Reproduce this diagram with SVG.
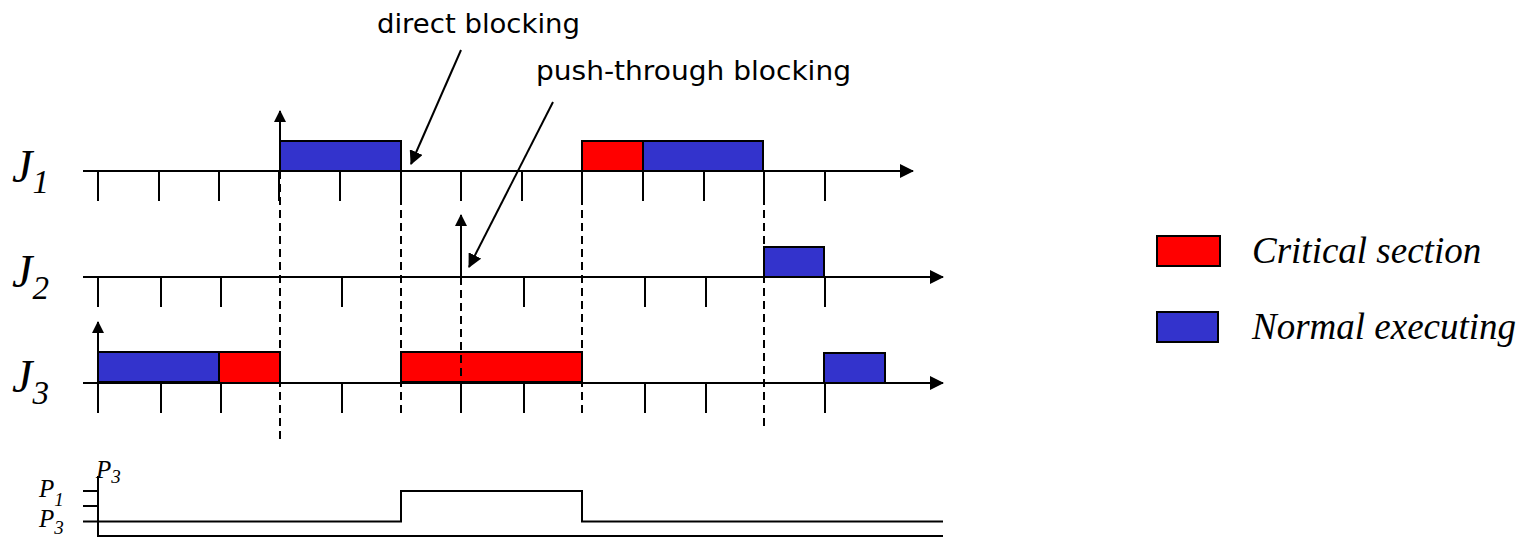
<svg xmlns="http://www.w3.org/2000/svg" width="1529" height="537" viewBox="0 0 1529 537">
  <style>
    .ax{stroke:#000;stroke-width:2;fill:none}
    .tk{stroke:#000;stroke-width:2}
    .dash{stroke:#000;stroke-width:2;stroke-dasharray:8,5;fill:none}
    .cs{fill:#ff0000;stroke:#000;stroke-width:2}
    .ne{fill:#3333cc;stroke:#000;stroke-width:2}
    .lbl{font-family:"Liberation Serif","Times New Roman",serif;font-style:italic;fill:#000}
    .note{font-family:"DejaVu Sans","Liberation Sans",sans-serif;font-size:26px;fill:#000}
  </style>
  <defs>
    <marker id="ah" viewBox="0 0 12 12" refX="11" refY="6" markerWidth="12" markerHeight="12" markerUnits="userSpaceOnUse" orient="auto">
      <path d="M0,0 L12,6 L0,12 Z" fill="#000"/>
    </marker>
    <marker id="ahs" viewBox="0 0 14 14" refX="13" refY="7" markerWidth="14" markerHeight="14" markerUnits="userSpaceOnUse" orient="auto">
      <path d="M0,0 L14,7 L0,14 Z" fill="#000"/>
    </marker>
  </defs>

  <!-- execution boxes -->
  <g id="j1-boxes">
    <rect class="ne" x="280" y="141" width="121" height="30"/>
    <rect class="cs" x="582" y="141" width="61" height="30"/>
    <rect class="ne" x="643" y="141" width="120" height="30"/>
  </g>
  <g id="j2-boxes">
    <rect class="ne" x="764" y="247" width="60" height="30"/>
  </g>
  <g id="j3-boxes">
    <rect class="ne" x="98" y="352" width="121" height="30"/>
    <rect class="cs" x="219" y="352" width="61" height="31"/>
    <rect class="cs" x="401" y="352" width="181" height="30"/>
    <rect class="ne" x="824" y="353" width="61" height="30"/>
  </g>

  <!-- time axes with ticks -->
  <g id="j1-axis">
    <line class="ax" x1="83" y1="171" x2="913" y2="171" marker-end="url(#ahs)"/>
    <path class="tk" d="M98,171V201 M159,171V201 M219,171V201 M279,171V201 M340,171V201 M401,171V201 M461,171V201 M522,171V201 M582,171V201 M643,171V201 M704,171V201 M764,171V201 M825,171V201"/>
  </g>
  <g id="j2-axis">
    <line class="ax" x1="83" y1="277" x2="943" y2="277" marker-end="url(#ahs)"/>
    <path class="tk" d="M98,277V307 M161,277V307 M221,277V307 M342,277V307 M524,277V307 M645,277V307 M706,277V307 M825,277V307"/>
  </g>
  <g id="j3-axis">
    <line class="ax" x1="83" y1="383" x2="943" y2="383" marker-end="url(#ahs)"/>
    <path class="tk" d="M98,383V413 M161,383V413 M221,383V413 M342,383V413 M461,383V413 M524,383V413 M645,383V413 M706,383V413 M825,383V413"/>
  </g>

  <!-- release arrows -->
  <g id="releases">
    <line class="ax" x1="280" y1="171" x2="280" y2="111" marker-end="url(#ah)"/>
    <line class="ax" x1="461" y1="277" x2="461" y2="215" marker-end="url(#ah)"/>
    <line class="ax" x1="98" y1="352" x2="98" y2="322" marker-end="url(#ah)"/>
  </g>

  <!-- dashed time markers -->
  <g id="markers">
    <line class="dash" x1="280" y1="171" x2="280" y2="443"/>
    <line class="dash" x1="401" y1="171" x2="401" y2="413"/>
    <line class="dash" x1="461" y1="277" x2="461" y2="413"/>
    <line class="dash" x1="582" y1="171" x2="582" y2="413"/>
    <line class="dash" x1="764" y1="171" x2="764" y2="430"/>
  </g>

  <!-- job labels -->
  <g id="job-labels" class="lbl">
    <text x="12" y="182" font-size="46">J<tspan font-size="33" dy="11">1</tspan></text>
    <text x="12" y="287" font-size="46">J<tspan font-size="33" dy="12">2</tspan></text>
    <text x="12" y="392" font-size="46">J<tspan font-size="33" dy="12">3</tspan></text>
  </g>

  <!-- annotations -->
  <g id="direct-blocking">
    <text class="note" x="377" y="33" textLength="203" lengthAdjust="spacingAndGlyphs">direct blocking</text>
    <line class="ax" x1="461" y1="50" x2="411" y2="164" marker-end="url(#ahs)"/>
  </g>
  <g id="push-through-blocking">
    <text class="note" x="536" y="80" textLength="315" lengthAdjust="spacingAndGlyphs">push-through blocking</text>
    <line class="ax" x1="553" y1="102" x2="469" y2="267" marker-end="url(#ahs)"/>
  </g>

  <!-- priority of J3 -->
  <g id="priority">
    <path class="ax" d="M98,476V536H943"/>
    <path class="tk" d="M83,491H98 M83,506H98"/>
    <path class="ax" d="M83,521.5H401V491H582V521.5H943"/>
    <text class="lbl" x="39" y="497" font-size="25">P<tspan font-size="19" dy="9">1</tspan></text>
    <text class="lbl" x="39" y="527" font-size="25">P<tspan font-size="19" dy="7">3</tspan></text>
    <text class="lbl" x="96" y="478" font-size="25">P<tspan font-size="19" dy="5">3</tspan></text>
  </g>

  <!-- legend -->
  <g id="legend">
    <rect class="cs" x="1157" y="236" width="63" height="30"/>
    <rect class="ne" x="1157" y="312" width="61" height="30"/>
    <text class="lbl" x="1252" y="263" font-size="37">Critical section</text>
    <text class="lbl" x="1252" y="339" font-size="37">Normal executing</text>
  </g>
</svg>
